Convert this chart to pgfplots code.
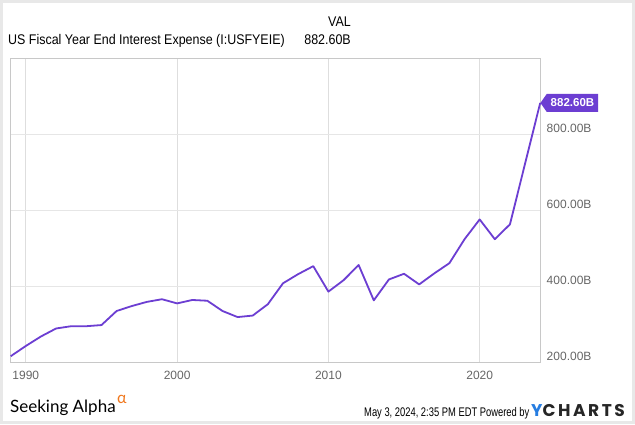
\documentclass[border=0pt]{standalone}
\usepackage{pgfplots}
\pgfplotsset{compat=1.18}
\usepackage{fontspec}
\setmainfont{Liberation Sans}
\newfontfamily\condfont[FakeStretch=0.89]{Liberation Sans}
\newfontfamily\datefont[FakeStretch=0.75]{Liberation Sans}
\newfontfamily\logofont{Lato}
\newfontfamily\ycfont[LetterSpace=15]{Poppins Bold}
\usetikzlibrary{shapes.symbols}
\definecolor{ycpurple}{RGB}{108,62,210}
\definecolor{gridgray}{RGB}{230,230,230}
\definecolor{vgridgray}{RGB}{222,222,222}
\definecolor{axgray}{RGB}{200,200,200}
\definecolor{ticktext}{RGB}{102,102,102}
\definecolor{frame}{RGB}{232,232,232}
\definecolor{ycblue}{RGB}{38,125,225}
\definecolor{saorange}{RGB}{240,120,30}

\pgfplotstableread{
year value
1989 216
1990 243
1991 268
1992 289
1993 295
1994 295
1995 298
1996 335
1997 348
1998 359
1999 366
2000 355
2001 364
2002 362
2003 335
2004 319
2005 323
2006 353
2007 408
2008 432
2009 453
2010 386
2011 416
2012 456
2013 363
2014 418
2015 433
2016 405
2017 434
2018 461
2019 524
2020 576
2021 524
2022 563
2024 882.6
}\interestdata

\begin{document}
\begin{tikzpicture}[x=1pt,y=1pt]
\path[use as bounding box] (0,0) rectangle (635,424);
\fill[white] (0,0) rectangle (635,424);
\draw[frame,line width=3pt] (1.5,1.5) rectangle (633.5,422.5);

\begin{axis}[
  at={(10.7pt,61.7pt)}, anchor=south west,
  scale only axis, width=529.5pt, height=304pt,
  xmin=1989, xmax=2024, ymin=200, ymax=1000,
  xtick={1990,2000,2010,2020},
  ytick={200,400,600,800},
  xticklabel style={/pgf/number format/1000 sep={}},
  x tick label style={font=\fontsize{12}{12}\selectfont, text=ticktext, yshift=-5pt},
  yticklabel pos=right,
  yticklabel={\pgfmathprintnumber[fixed,fixed zerofill,precision=2]{\tick}B},
  y tick label style={font=\fontsize{12}{12}\selectfont, text=ticktext, xshift=3pt, yshift=5.5pt},
  /pgf/number format/assume math mode=true,
  major tick length=0pt,
  xmajorgrids, ymajorgrids,
  x grid style={vgridgray, line width=0.8pt},
  y grid style={gridgray, line width=1.4pt},
  axis line style={axgray, line width=0.8pt},
  clip=false,
]
\addplot[ycpurple, line width=1.8pt, line join=round] table[x=year,y=value] {\interestdata};
\node[signal, signal to=west, signal pointer angle=110, fill=ycpurple, text=white,
      anchor=west, inner xsep=4pt, inner ysep=3pt, minimum height=18pt,
      font=\bfseries\fontsize{11.5}{11.5}\selectfont]
  at (axis cs:2024,882.6) {882.60B};
\end{axis}

\node[anchor=base west, inner sep=0pt, font=\condfont\fontsize{14}{14}\selectfont] at (8,379) {US Fiscal Year End Interest Expense (I:USFYEIE)};
\node[anchor=base east, inner sep=0pt, font=\condfont\fontsize{14}{14}\selectfont] at (351,379) {882.60B};
\node[anchor=base east, inner sep=0pt, font=\condfont\fontsize{14}{14}\selectfont] at (351,397) {VAL};

\node[anchor=base west, inner sep=0pt, font=\logofont\fontsize{17}{17}\selectfont] at (10,11.3) {Seeking Alpha};
\node[anchor=base west, inner sep=0pt, text=saorange, font=\logofont\fontsize{16}{16}\selectfont] at (117,21) {α};
\node[anchor=base west, inner sep=0pt, font=\datefont\fontsize{12.5}{12.5}\selectfont] at (364,8) {May 3, 2024, 2:35 PM EDT Powered by};
\node[anchor=base west, inner sep=0pt, font=\ycfont\fontsize{17}{17}\selectfont] at (531,8) {\textcolor{ycblue}{Y}\textcolor{black!85}{CHARTS}};
\end{tikzpicture}
\end{document}
